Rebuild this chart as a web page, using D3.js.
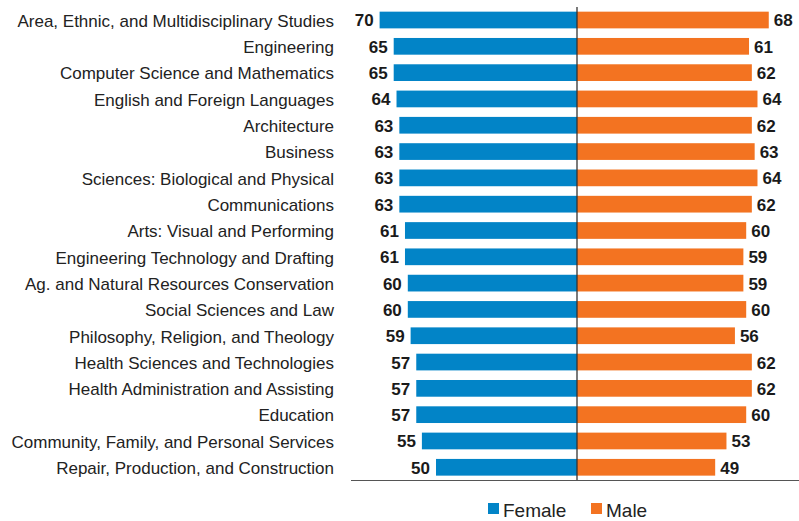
<!DOCTYPE html>
<html>
<head>
<meta charset="utf-8">
<script src="https://cdn.jsdelivr.net/npm/d3@7"></script>
<style>
body { margin: 0; background: #fff; }
text { font-family: "Liberation Sans", Arial, sans-serif; }
</style>
</head>
<body>
<div id="chart"></div>
<script>
const categories = [
  "Area, Ethnic, and Multidisciplinary Studies",
  "Engineering",
  "Computer Science and Mathematics",
  "English and Foreign Languages",
  "Architecture",
  "Business",
  "Sciences: Biological and Physical",
  "Communications",
  "Arts: Visual and Performing",
  "Engineering Technology and Drafting",
  "Ag. and Natural Resources Conservation",
  "Social Sciences and Law",
  "Philosophy, Religion, and Theology",
  "Health Sciences and Technologies",
  "Health Administration and Assisting",
  "Education",
  "Community, Family, and Personal Services",
  "Repair, Production, and Construction"
];
const female = [70, 65, 65, 64, 63, 63, 63, 63, 61, 61, 60, 60, 59, 57, 57, 57, 55, 50];
const male   = [68, 61, 62, 64, 62, 63, 64, 62, 60, 59, 59, 60, 56, 62, 62, 60, 53, 49];
const seriesNames = ["Female", "Male"];

const width = 799, height = 521;
const cx = 577;            // centre line
const pxPerUnit = 2.82;
const blue = "#0284c7", orange = "#f37321";

const svg = d3.select("#chart").append("svg")
  .attr("width", width).attr("height", height);

const y = d3.scaleBand()
  .domain(categories)
  .range([6.4, 480.9])
  .paddingInner(0.365)
  .paddingOuter(0.2);

const xL = d3.scaleLinear().domain([0, 100]).range([cx, cx - 100 * pxPerUnit]);
const xR = d3.scaleLinear().domain([0, 100]).range([cx, cx + 100 * pxPerUnit]);

// bars
svg.append("g").selectAll("rect")
  .data(categories)
  .join("rect")
  .attr("x", (d, i) => xL(female[i]))
  .attr("y", d => y(d))
  .attr("width", (d, i) => xL(0) - xL(female[i]))
  .attr("height", y.bandwidth())
  .attr("fill", blue);

svg.append("g").selectAll("rect")
  .data(categories)
  .join("rect")
  .attr("x", xR(0))
  .attr("y", d => y(d))
  .attr("width", (d, i) => xR(male[i]) - xR(0))
  .attr("height", y.bandwidth())
  .attr("fill", orange);

// value labels
svg.append("g").selectAll("text")
  .data(categories)
  .join("text")
  .attr("x", (d, i) => xL(female[i]) - 6)
  .attr("y", d => y(d) + y.bandwidth() / 2)
  .attr("dy", "0.38em")
  .attr("text-anchor", "end")
  .attr("font-weight", "bold")
  .attr("font-size", 17)
  .attr("fill", "#1a1a1a")
  .text((d, i) => female[i]);

svg.append("g").selectAll("text")
  .data(categories)
  .join("text")
  .attr("x", (d, i) => xR(male[i]) + 5)
  .attr("y", d => y(d) + y.bandwidth() / 2)
  .attr("dy", "0.38em")
  .attr("font-weight", "bold")
  .attr("font-size", 17)
  .attr("fill", "#1a1a1a")
  .text((d, i) => male[i]);

// category axis
const yAxis = d3.axisLeft(y).tickSize(0).tickPadding(0);
const ga = svg.append("g").attr("transform", "translate(334,0)").call(yAxis);
ga.select(".domain").remove();
ga.selectAll("text")
  .attr("font-size", 17)
  .attr("dy", "0.4em")
  .attr("fill", "#222")
  .style("font-family", "'Liberation Sans', Arial, sans-serif");

// centre and bottom lines
svg.append("line")
  .attr("x1", cx).attr("x2", cx)
  .attr("y1", 7).attr("y2", 481)
  .attr("stroke", "#333").attr("stroke-width", 1.3);
svg.append("line")
  .attr("x1", 351).attr("x2", width)
  .attr("y1", 480.5).attr("y2", 480.5)
  .attr("stroke", "#555").attr("stroke-width", 1.2);

// legend
const legend = svg.append("g").selectAll("g")
  .data(seriesNames)
  .join("g")
  .attr("transform", (d, i) => `translate(${i === 0 ? 488 : 591},503)`);
legend.append("rect")
  .attr("width", 11).attr("height", 11)
  .attr("fill", (d, i) => i === 0 ? blue : orange);
legend.append("text")
  .attr("x", 15).attr("y", 14)
  .attr("font-size", 19)
  .attr("fill", "#222")
  .text(d => d);
</script>
</body>
</html>
